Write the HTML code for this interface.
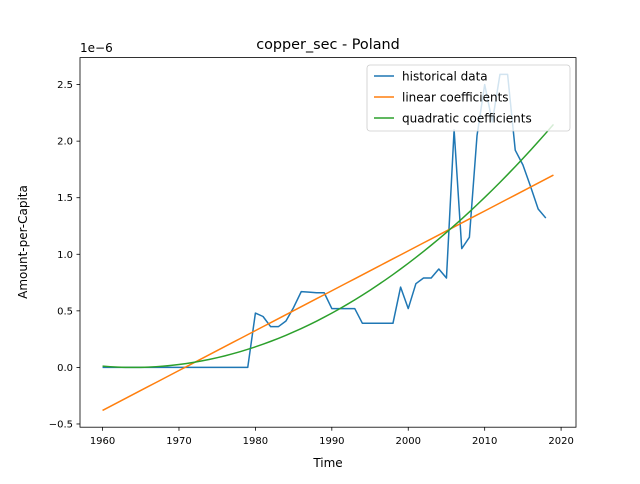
<!DOCTYPE html>
<html><head><meta charset="utf-8"><style>
body{margin:0;background:#fff;font-family:"DejaVu Sans","Liberation Sans",sans-serif;}
svg text{font-family:"DejaVu Sans","Liberation Sans",sans-serif;fill:#000;}
</style></head><body>
<svg id="chart" width="640" height="480" xmlns="http://www.w3.org/2000/svg">
<rect width="640" height="480" fill="#fff"/>
<text x="328" y="49" font-size="14.4" text-anchor="middle">copper_sec - Poland</text>
<text x="328" y="467" font-size="12" text-anchor="middle">Time</text>
<text transform="translate(27,242) rotate(-90)" font-size="12" text-anchor="middle">Amount-per-Capita</text>
<text x="80" y="52" font-size="12">1e−6</text>
<g id="ticks"></g>
<g id="series"></g>
<rect x="80" y="57.6" width="496" height="369.6" fill="none" stroke="#000" stroke-width="0.8"/>
<g>
<rect x="367" y="65" width="203" height="66" rx="3" fill="#fff" fill-opacity="0.8" stroke="#ccc" stroke-width="0.8"/>
<line x1="374" y1="76" x2="394" y2="76" stroke="#1f77b4" stroke-width="1.5"/>
<text x="402" y="80.5" font-size="12">historical data</text>
<line x1="374" y1="97" x2="394" y2="97" stroke="#ff7f0e" stroke-width="1.5"/>
<text x="402" y="101.5" font-size="12">linear coefficients</text>
<line x1="374" y1="118" x2="394" y2="118" stroke="#2ca02c" stroke-width="1.5"/>
<text x="402" y="122.5" font-size="12">quadratic coefficients</text>
</g>
</svg>
<script>
const years = [];
for (let y = 1960; y <= 2019; y++) years.push(y);
const histYears = years.slice(0, 59);
const histValues = [0,0,0,0,0,0,0,0,0,0,0,0,0,0,0,0,0,0,0,0,
0.48,0.45,0.36,0.36,0.41,0.53,0.67,0.665,0.66,0.66,
0.52,0.52,0.52,0.52,0.39,0.39,0.39,0.39,0.39,0.71,
0.52,0.74,0.79,0.79,0.87,0.79,2.1,1.05,1.15,2.05,
2.5,2.17,2.59,2.59,1.92,1.79,1.6,1.4,1.32];
const linStart = -0.38, linEnd = 1.70;
const quadA = 7.1e-4, quadVertex = 1964, quadC = 0;
const xTicks = [1960,1970,1980,1990,2000,2010,2020];
const yTicks = [-0.5,0,0.5,1.0,1.5,2.0,2.5];
const yTickLabels = ["−0.5","0.0","0.5","1.0","1.5","2.0","2.5"];

const L=80,R=576,T=57.6,B=427.2;
const xmin=1957.05,xmax=2021.95,ymin=-0.5285,ymax=2.7385;
const sx=v=>L+(v-xmin)/(xmax-xmin)*(R-L);
const sy=v=>B-(v-ymin)/(ymax-ymin)*(B-T);
const NS="http://www.w3.org/2000/svg";
const tg=document.getElementById('ticks'), sg=document.getElementById('series');
function mk(tag,attrs,parent){const e=document.createElementNS(NS,tag);for(const k in attrs)e.setAttribute(k,attrs[k]);parent.appendChild(e);return e;}
xTicks.forEach(t=>{
  const l=mk('line',{x1:sx(t),x2:sx(t),y1:B,y2:B+3.5,stroke:'#000','stroke-width':0.8},tg);
  
  
  const tx=mk('text',{x:sx(t),y:B+17,'font-size':10,'text-anchor':'middle'},tg);
  
  
  tx.textContent=t;
});
yTicks.forEach((t,i)=>{
  const l=mk('line',{x1:L-3.5,x2:L,y1:sy(t),y2:sy(t),stroke:'#000','stroke-width':0.8},tg);
  
  
  const tx=mk('text',{x:L-7,y:sy(t)+3.5,'font-size':10,'text-anchor':'end'},tg);
  
  
  tx.textContent=yTickLabels[i];
});
function line(xs,ys,color,name){
  const p=mk('polyline',{points:xs.map((x,i)=>sx(x)+','+sy(ys[i])).join(' '),fill:'none',stroke:color,'stroke-width':1.5,'stroke-linejoin':'round'},sg);
  
  
}
line(histYears,histValues,'#1f77b4','historical-data-line');
line(years,years.map(y=>linStart+(linEnd-linStart)*(y-1960)/59),'#ff7f0e','linear-fit-line');
line(years,years.map(y=>quadA*(y-quadVertex)*(y-quadVertex)+quadC),'#2ca02c','quadratic-fit-line');
</script>
</body></html>
